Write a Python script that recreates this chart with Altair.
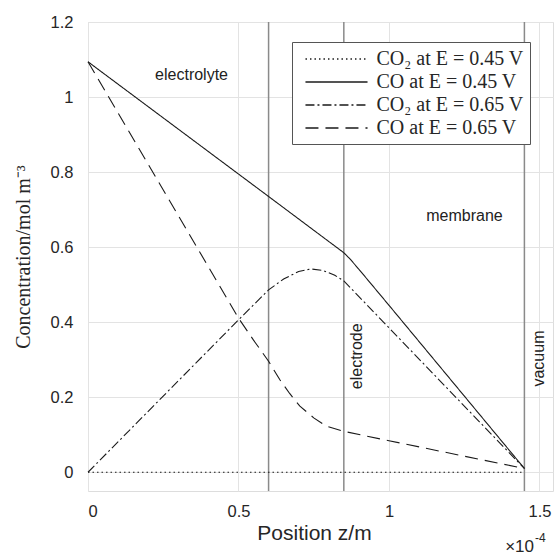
import altair as alt
import pandas as pd

series_names = ["CO\u2082 at E = 0.45 V", "CO at E = 0.45 V",
                "CO\u2082 at E = 0.65 V", "CO at E = 0.65 V"]

co2_045_x = [0, 0.6, 0.85, 1.45]
co2_045_y = [0, 0, 0, 0]

co_045_x = [0, 0.6, 0.85, 0.87, 0.9, 1.0, 1.45]
co_045_y = [1.094, 0.735, 0.585, 0.569, 0.541, 0.445, 0.01]

co2_065_x = [0, 0.5, 0.6, 0.65, 0.7, 0.74, 0.78, 0.82, 0.85, 1.0, 1.45]
co2_065_y = [0, 0.406, 0.486, 0.515, 0.535, 0.542, 0.538, 0.525, 0.51, 0.385, 0.01]

co_065_x = [0, 0.5, 0.55, 0.6, 0.637, 0.67, 0.704, 0.75, 0.792, 0.85, 1.0, 1.45]
co_065_y = [1.094, 0.411, 0.352, 0.296, 0.247, 0.21, 0.176, 0.145, 0.123, 0.109, 0.084, 0.01]

region_bounds = [0.6, 0.85, 1.45]

ann_labels = ["electrolyte", "membrane"]
ann_x = [0.344, 1.251]
ann_y = [1.058, 0.683]

rot_labels = ["electrode", "vacuum"]
rot_x = [0.894, 1.5]
rot_y = [0.309, 0.303]

x_ticks = [0, 0.5, 1, 1.5]
y_ticks = [0, 0.2, 0.4, 0.6, 0.8, 1.0, 1.2]

dash_patterns = [[1.5, 3], [1, 0], [9, 3, 2, 3], [13, 7]]

frames = []
for name, xs, ys in zip(series_names,
                        [co2_045_x, co_045_x, co2_065_x, co_065_x],
                        [co2_045_y, co_045_y, co2_065_y, co_065_y]):
    frames.append(pd.DataFrame({"x": xs, "y": ys, "series": name}))
df = pd.concat(frames, ignore_index=True)

SANS = "Liberation Sans"
SERIF = "Liberation Serif"
TXT = "#262626"

xscale = alt.Scale(domain=[0, 1.545], nice=False, zero=False)
yscale = alt.Scale(domain=[-0.05, 1.2], nice=False, zero=False)

lines = alt.Chart(df).mark_line(color="#1a1a1a", strokeWidth=1.1).encode(
    x=alt.X("x:Q", scale=xscale,
            axis=alt.Axis(values=x_ticks, format="~g", title="Position z/m",
                          grid=True, gridColor="#e3e3e3", domain=False, tickSize=0,
                          labelFont=SANS, labelFontSize=16.5, labelColor=TXT, labelPadding=12,
                          titleFont=SANS, titleFontSize=21, titleFontWeight="normal",
                          titleColor=TXT, titlePadding=3, titleX=226)),
    y=alt.Y("y:Q", scale=yscale,
            axis=alt.Axis(values=y_ticks, format="~g", title="Concentration/mol m\u207b\u00b3",
                          grid=True, gridColor="#e3e3e3", domain=False, tickSize=0,
                          labelFont=SANS, labelFontSize=16.5, labelColor=TXT, labelPadding=15,
                          titleFont=SERIF, titleFontSize=20, titleFontWeight="normal",
                          titleColor=TXT, titlePadding=17)),
    strokeDash=alt.StrokeDash(
        "series:N", sort=series_names,
        scale=alt.Scale(domain=series_names, range=dash_patterns),
        legend=alt.Legend(title=None, orient="none", legendX=204, legendY=20,
                          fillColor="white", strokeColor="#555555", padding=6,
                          symbolType="M-3,0H3", symbolSize=428, symbolOffset=27.5,
                          symbolStrokeColor="#1a1a1a", symbolStrokeWidth=1.3,
                          labelFont=SERIF, labelFontSize=20, labelColor=TXT,
                          labelOffset=29, rowPadding=2)),
)

rules = alt.Chart(pd.DataFrame({"x": region_bounds})).mark_rule(
    color="#8a8a8a", strokeWidth=1.5).encode(x=alt.X("x:Q", scale=xscale))

ann = alt.Chart(pd.DataFrame({"x": ann_x, "y": ann_y, "t": ann_labels})).mark_text(
    font=SANS, fontSize=16, color="#222222").encode(
    x=alt.X("x:Q", scale=xscale), y=alt.Y("y:Q", scale=yscale), text="t:N")

rot = alt.Chart(pd.DataFrame({"x": rot_x, "y": rot_y, "t": rot_labels})).mark_text(
    font=SANS, fontSize=16, color="#222222", angle=270).encode(
    x=alt.X("x:Q", scale=xscale), y=alt.Y("y:Q", scale=yscale), text="t:N")

mult = alt.Chart(pd.DataFrame({"t": ["\u00d710"]})).mark_text(
    font=SANS, fontSize=17, color=TXT, align="right", baseline="alphabetic").encode(
    x=alt.value(446), y=alt.value(530), text="t:N")
expo = alt.Chart(pd.DataFrame({"t": ["-4"]})).mark_text(
    font=SANS, fontSize=12, color=TXT, align="left", baseline="alphabetic").encode(
    x=alt.value(447), y=alt.value(520), text="t:N")

chart = alt.layer(rules, lines, ann, rot, mult, expo).properties(
    width=465, height=469,
    autosize=alt.AutoSizeParams(type="none"),
    padding={"left": 88, "top": 22, "right": 2, "bottom": 64},
).configure_view(stroke="#3d3d3d", strokeWidth=1.5).configure(background="white")

chart.save("out.html", embed_options={"renderer": "svg", "actions": False})
